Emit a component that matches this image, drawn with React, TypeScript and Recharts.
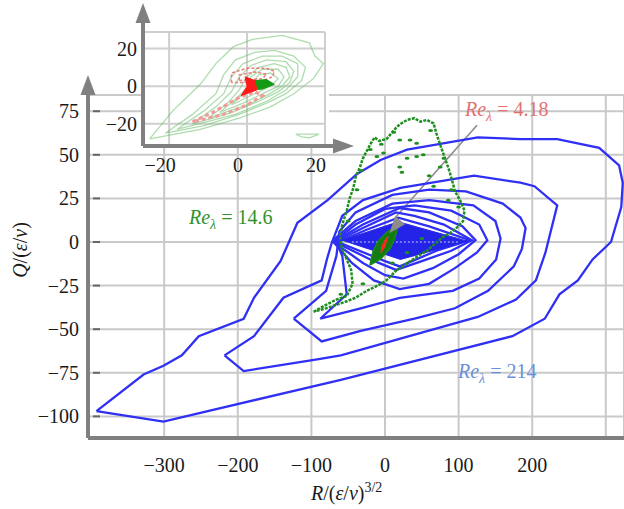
import React from "react";
import {
  ScatterChart,
  Scatter,
  XAxis,
  YAxis,
  CartesianGrid,
  ReferenceDot,
  ReferenceLine,
} from "recharts";

// ---- main panel: R-Q joint pdf contours ----
const mainXTicks = [-300, -200, -100, 0, 100, 200, 300];
const mainYTicks = [-100, -75, -50, -25, 0, 25, 50, 75];

// Re_lambda = 214 (blue), outer to inner
const blue1 = [
  [-392, -97], [-301, -103], [-60, -79], [173, -54], [217, -44], [237, -30], [262, -22],
  [282, -10], [307, 0], [321, 20], [323, 34], [318, 44], [291, 54], [234, 59], [184, 59],
  [126, 60], [30, 53], [-6, 47], [-38, 39], [-78, 24], [-119, 11], [-142, -11], [-178, -32],
  [-192, -44], [-253, -54], [-276, -65], [-301, -71], [-328, -76], [-392, -97],
];
const blue2 = [
  [-218, -65], [-192, -74], [-88, -67], [-60, -65], [126, -43], [178, -33], [205, -22],
  [218, -6], [234, 21], [203, 32], [184, 34], [121, 38], [21, 31], [-30, 24], [-58, 15],
  [-72, 0], [-79, -10], [-86, -22], [-138, -32], [-178, -54], [-218, -65],
];
const blue3 = [
  [-124, -44], [-86, -57], [-33, -51], [40, -44], [95, -38], [140, -28], [175, -14],
  [186, -4], [191, 8], [184, 14], [160, 22], [110, 29], [60, 30], [10, 27], [-40, 17],
  [-62, 6], [-66, -8], [-80, -28], [-124, -44],
];
const blue4 = [
  [-88, -44], [-33, -38], [20, -32], [92, -28], [128, -21], [151, -10], [157, 2], [150, 12],
  [120, 21], [60, 24], [10, 22], [-40, 12], [-68, 2], [-58, -8], [-52, -30], [-88, -44],
];
const blue5 = [
  [-70, 0], [-45, -12], [-15, -22], [20, -27], [60, -24], [95, -15], [125, -6], [139, 1],
  [128, 10], [90, 18], [40, 21], [0, 19], [-40, 10], [-70, 0],
];
const blue6 = [
  [-70, 0], [-30, -12], [0, -19], [25, -21], [65, -15], [100, -7], [123, 1], [105, 9],
  [60, 17], [20, 19.5], [-30, 10], [-70, 0],
];
const blue7 = [
  [-68, 0], [-20, -10], [15, -16], [50, -11], [90, -5], [118, 1], [80, 10], [40, 15],
  [15, 17], [-30, 8], [-68, 0],
];
const blue8 = [
  [-64, 0], [0, -11], [20, -14], [70, -5], [115, 1], [60, 9], [18, 14], [-25, 7], [-64, 0],
];
const blueCore = [[-58, 1], [18, 11.6], [112, 0.5], [21, -10], [-58, 1]];
const blueMid = [[-45, 0], [100, 0]];

// Re_lambda = 14.6 (green)
const greenLoop = [
  [-97, -40], [-80, -36], [-66, -33], [-52, -31], [-44, -24], [-46, -16], [-52, -10],
  [-59, -3], [-61, 4], [-58, 10], [-52, 18], [-48, 25], [-43, 31], [-40, 37], [-34, 43],
  [-30, 48], [-25, 52], [-20, 56], [-14, 60], [-8, 58], [2, 59], [8, 62], [16, 66],
  [22, 68], [30, 70], [40, 71], [48, 69], [57, 70], [66, 68], [70, 62], [74, 57], [79, 51],
  [84, 45], [88, 40], [92, 34], [95, 29], [102, 24], [108, 18], [106, 12], [97, 8],
  [88, 5], [79, 3], [68, -1], [57, -5], [45, -8], [34, -11], [24, -14], [16, -16],
  [2, -22], [-10, -25], [-25, -28], [-40, -32], [-52, -34], [-66, -36], [-80, -38], [-97, -40],
];
const greenBits = [
  [34, 58.5], [43, 56.6], [52, 50], [20, 43], [23, 40], [75, 43], [66, 32], [43, 49],
  [-2, 51], [-11, 49], [86, 24], [20, 58.5], [-32, 41], [60, 38], [30, 48], [-20, 53],
  [-38, 30], [-50, 12], [100, 20], [90, 30], [62, 64], [12, 63], [-5, 56], [80, 48],
  [50, 2], [30, -6], [-30, -24], [-60, -30], [10, -12],
];
// Re_lambda = 4.18 core
const greenBlob = [
  [-20.4, -13.2], [-5.4, -9.5], [6.4, -4], [13.6, 2.3], [17.7, 9.7], [2.7, 5.7],
  [-9.1, 0.6], [-16.3, -5.4], [-20.4, -13.2],
];
const redBlob = [[-5.4, -6.3], [0, -2.3], [4.1, 3.4], [0, 1.1], [-4.1, -2.3], [-5.4, -6.3]];

// ---- inset panel ----
const insetXTicks = [-20, 0, 20];
const insetYTicks = [-20, 0, 20];
const insetGreen = [
  [[-25, -28], [-19, -13], [-12, 1], [-8, 12], [-3.5, 21], [1.6, 25], [9, 27], [16, 23],
    [17.4, 16], [19.6, 12], [17, 4], [12, -4], [6, -11], [-2, -17], [-12, -23], [-25, -28]],
  [[-21, -25], [-14, -15], [-8, -4], [-6, 6], [-3, 14], [2, 18], [7, 19], [12, 16], [15, 10],
    [14, 3], [10, -4], [5, -9], [-2, -15], [-11, -21], [-21, -25]],
  [[-18, -23], [-11, -13], [-6, -4], [-4, 5], [-1, 12], [4, 16], [9, 16], [13, 12], [13, 5],
    [10, -2], [5, -8], [-3, -15], [-18, -23]],
  [[-14, -20], [-8, -11], [-4, -3], [-2, 5], [1, 11], [5, 14], [10, 13], [12, 8], [11, 2],
    [8, -3], [3, -8], [-4, -14], [-14, -20]],
  [[-10, -17], [-5, -9], [-2, -2], [0, 5], [3, 10], [7, 12], [10, 10], [11, 5], [9, 0],
    [5, -5], [0, -10], [-10, -17]],
  [[-7, -14], [-3, -7], [0, -1], [1, 5], [4, 9], [8, 9], [9.5, 5], [8, 0], [4, -4],
    [-1, -9], [-7, -14]],
  [[-4, -10], [-1, -4], [1, 1], [3, 6], [6, 7], [8, 4], [6, 0], [3, -3], [-4, -10]],
  [[12.5, -25.5], [18.5, -25.5], [16, -27.5], [14, -27], [12.5, -25.5]],
];
const insetRed = [
  [[-4, 2], [-4, 7], [0, 9.5], [5, 9.5], [7, 8], [6.5, 5], [3, 2], [-4, 2]],
  [[-2, 3], [-2, 6], [2, 7.5], [5, 6.5], [4, 4], [-2, 3]],
];
const insetRedTail = [
  [-14, -19], [-8, -13], [-2, -6], [2, -3], [4, -5], [0, -10], [-6, -15], [-14, -19],
];
const insetRedBlob = [[-1.5, -5], [0, 0], [-0.5, 5], [2, 3], [2.5, -2], [-1.5, -5]];
const insetGreenBlob = [[1, -2], [2, 3], [5, 3.5], [7, 1], [4, -1.5], [1, -2]];

const MX: [number, number] = [-403.5, 324.7];
const MY: [number, number] = [-112.4, 84.3];
const IX: [number, number] = [-26.7, 20];
const IY: [number, number] = [-31.8, 28.8];

const FONT = "Liberation Serif, Times New Roman, serif";
const AXIS = "#808080";
const BLUE = "#2f2ff5";
const GREEN = "#1f8f1f";

const pts = (a: number[][]) => a.map(([x, y]) => ({ x, y }));
const fmt = (v: number) => (v < 0 ? "\u2212" + Math.abs(v) : String(v));
const noDot = () => <g />;
const bitDot = (p: any) => <ellipse cx={p.cx} cy={p.cy} rx={2.4} ry={1.5} fill={GREEN} />;

const MainXTick = ({ x, y, payload }: any) =>
  payload.value === 300 ? <g /> : (
    <text x={x} y={y + 34} textAnchor="middle" fontSize={20} fontFamily={FONT} fill="#1a1a1a">
      {fmt(payload.value)}
    </text>
  );

const MainYTick = ({ x, y, payload }: any) => (
  <g>
    <text x={x - 9} y={y + 7} textAnchor="end" fontSize={20} fontFamily={FONT} fill="#1a1a1a">
      {fmt(payload.value)}
    </text>
    <line x1={x + 5} x2={x + 12} y1={y} y2={y} stroke="#666" strokeWidth={2} />
  </g>
);

const InsetXTick = ({ x, y, payload }: any) => (
  <text x={x - 9} y={y + 26} textAnchor="middle" fontSize={20} fontFamily={FONT} fill="#1a1a1a">
    {fmt(payload.value)}
  </text>
);

const InsetYTick = ({ x, y, payload }: any) => (
  <text x={x - 6} y={y + 7} textAnchor="end" fontSize={20} fontFamily={FONT} fill="#1a1a1a">
    {fmt(payload.value)}
  </text>
);

const xArrow = (ext: number, len: number, hw: number) => (p: any) => (
  <g>
    {ext > 0 && <line x1={p.cx} x2={p.cx + ext} y1={p.cy} y2={p.cy} stroke={AXIS} strokeWidth={4} />}
    <path d={`M${p.cx + ext},${p.cy - hw} L${p.cx + ext + len},${p.cy} L${p.cx + ext},${p.cy + hw} Z`} fill={AXIS} />
  </g>
);
const yArrow = (ext: number, len: number, hw: number) => (p: any) => (
  <g>
    {ext > 0 && <line x1={p.cx} x2={p.cx} y1={p.cy} y2={p.cy - ext} stroke={AXIS} strokeWidth={4} />}
    <path d={`M${p.cx - hw},${p.cy - ext} L${p.cx},${p.cy - ext - len} L${p.cx + hw},${p.cy - ext} Z`} fill={AXIS} />
  </g>
);
const pointerHead = (p: any) => (
  <path
    d="M0,0 L-17,-6.5 L-17,6.5 Z"
    transform={`translate(${p.cx},${p.cy}) rotate(129)`}
    fill="#8c8c8c"
  />
);

const blues = [blue1, blue2, blue3, blue4, blue5, blue6, blue7, blue8];

function ReLabel({ x, y, value, color }: { x: number; y: number; value: string; color: string }) {
  return (
    <text x={x} y={y} fontSize={20} fontFamily={FONT} fill={color}>
      <tspan fontStyle="italic">Re</tspan>
      <tspan fontStyle="italic" fontSize={14} dy={5}>λ</tspan>
      <tspan dy={-5}>{" = " + value}</tspan>
    </text>
  );
}

export default function App() {
  return (
    <div style={{ position: "absolute", left: 0, top: 0, width: 624, height: 509, background: "#fff" }}>
      <div style={{ position: "absolute", left: 0, top: 0 }}>
        <ScatterChart width={624} height={509} margin={{ top: 95, right: 0, bottom: 41, left: 28 }}>
          <CartesianGrid stroke="#c9c9c9" strokeWidth={2} />
          <XAxis
            type="number"
            dataKey="x"
            domain={MX}
            allowDataOverflow
            ticks={mainXTicks}
            interval={0}
            tickSize={0}
            tickMargin={0}
            tickLine={false}
            tick={<MainXTick />}
            axisLine={{ stroke: AXIS, strokeWidth: 4 }}
            height={30}
          />
          <YAxis
            type="number"
            dataKey="y"
            domain={MY}
            allowDataOverflow
            ticks={mainYTicks}
            interval={0}
            tickSize={0}
            tickMargin={0}
            tickLine={false}
            tick={<MainYTick />}
            axisLine={{ stroke: AXIS, strokeWidth: 4 }}
            width={60}
          />
          {blues.map((c, i) => (
            <Scatter
              key={"b" + i}
              data={pts(c)}
              line={{ stroke: BLUE, strokeWidth: 2.3 }}
              shape={noDot}
              isAnimationActive={false}
              legendType="none"
            />
          ))}
          <Scatter
            data={pts(blueCore)}
            line={{ stroke: "#2424e8", strokeWidth: 1, fill: "#2424e8" }}
            shape={noDot}
            isAnimationActive={false}
          />
          <Scatter
            data={pts(blueMid)}
            line={{ stroke: "#c8c8ff", strokeWidth: 1, strokeDasharray: "2 2" }}
            shape={noDot}
            isAnimationActive={false}
          />
          <Scatter
            data={pts(greenLoop)}
            line={{ stroke: GREEN, strokeWidth: 2.5, strokeDasharray: "3 1.2" }}
            shape={noDot}
            isAnimationActive={false}
          />
          <Scatter data={pts(greenBits)} shape={bitDot} isAnimationActive={false} />
          <Scatter
            data={pts(greenBlob)}
            line={{ stroke: "#1a8a1a", strokeWidth: 1.5, fill: "#117d11" }}
            shape={noDot}
            isAnimationActive={false}
          />
          <Scatter
            data={pts(redBlob)}
            line={{ stroke: "#ff2a2a", strokeWidth: 1, fill: "#ff2020" }}
            shape={noDot}
            isAnimationActive={false}
          />
          <ReferenceLine
            segment={[{ x: 125, y: 67 }, { x: 14, y: 14 }]}
            stroke="#8c8c8c"
            strokeWidth={1.6}
          />
          <ReferenceDot x={6} y={5} r={0} shape={pointerHead} />
          <ReferenceDot x={MX[1]} y={MY[0]} r={0} shape={xArrow(0, 18, 8.5)} ifOverflow="visible" />
          <ReferenceDot x={MX[0]} y={MY[1]} r={0} shape={yArrow(0, 20, 7.5)} ifOverflow="visible" />
        </ScatterChart>
      </div>

      <div style={{ position: "absolute", left: 143, top: 0, width: 186, height: 146, background: "#fff" }} />

      <div style={{ position: "absolute", left: 0, top: 0 }}>
        <ScatterChart width={360} height={176} margin={{ top: 32, right: 35, bottom: 0, left: 103 }}>
          <CartesianGrid stroke="#cfcfcf" strokeWidth={2} />
          <XAxis
            type="number"
            dataKey="x"
            domain={IX}
            allowDataOverflow
            ticks={insetXTicks}
            interval={0}
            tickSize={0}
            tickMargin={0}
            tickLine={false}
            tick={<InsetXTick />}
            axisLine={{ stroke: AXIS, strokeWidth: 4 }}
            height={30}
          />
          <YAxis
            type="number"
            dataKey="y"
            domain={IY}
            allowDataOverflow
            ticks={insetYTicks}
            interval={0}
            tickSize={0}
            tickMargin={0}
            tickLine={false}
            tick={<InsetYTick />}
            axisLine={{ stroke: AXIS, strokeWidth: 4 }}
            width={40}
          />
          {insetGreen.map((c, i) => (
            <Scatter
              key={"g" + i}
              data={pts(c)}
              line={{ stroke: "#6cc06c", strokeWidth: 1.3, strokeOpacity: 0.55 }}
              shape={noDot}
              isAnimationActive={false}
            />
          ))}
          <Scatter
            data={pts(insetRedTail)}
            line={{ stroke: "#f29a9a", strokeWidth: 3, strokeDasharray: "4 3" }}
            shape={noDot}
            isAnimationActive={false}
          />
          {insetRed.map((c, i) => (
            <Scatter
              key={"r" + i}
              data={pts(c)}
              line={{ stroke: "#ee5a5a", strokeWidth: 1.5, strokeDasharray: "3 2", strokeOpacity: 0.8 }}
              shape={noDot}
              isAnimationActive={false}
            />
          ))}
          <Scatter
            data={pts(insetGreenBlob)}
            line={{ stroke: "#159a15", strokeWidth: 1, fill: "#159a15" }}
            shape={noDot}
            isAnimationActive={false}
          />
          <Scatter
            data={pts(insetRedBlob)}
            line={{ stroke: "#ff1a1a", strokeWidth: 1, fill: "#ff1a1a" }}
            shape={noDot}
            isAnimationActive={false}
          />
          <ReferenceDot x={IX[1]} y={IY[0]} r={0} shape={xArrow(8, 21, 7.5)} ifOverflow="visible" />
          <ReferenceDot x={IX[0]} y={IY[1]} r={0} shape={yArrow(9, 20, 7.5)} ifOverflow="visible" />
        </ScatterChart>
      </div>

      <svg width={624} height={509} style={{ position: "absolute", left: 0, top: 0, pointerEvents: "none" }}>
        <ReLabel x={465} y={116} value="4.18" color="#e07272" />
        <ReLabel x={189} y={224} value="14.6" color="#2f922f" />
        <ReLabel x={458} y={378} value="214" color="#6b8fdc" />
        <text x={311} y={500} fontSize={20} fontFamily={FONT} fill="#1a1a1a">
          <tspan fontStyle="italic">R</tspan>
          <tspan>/(</tspan>
          <tspan fontStyle="italic">ε</tspan>
          <tspan>/</tspan>
          <tspan fontStyle="italic">ν</tspan>
          <tspan>)</tspan>
          <tspan fontSize={14} dy={-8}>3/2</tspan>
        </text>
        <text
          transform="translate(27,250) rotate(-90)"
          textAnchor="middle"
          fontSize={20}
          fontFamily={FONT}
          fill="#1a1a1a"
        >
          <tspan fontStyle="italic">Q</tspan>
          <tspan>/(</tspan>
          <tspan fontStyle="italic">ε</tspan>
          <tspan>/</tspan>
          <tspan fontStyle="italic">ν</tspan>
          <tspan>)</tspan>
        </text>
      </svg>
    </div>
  );
}
